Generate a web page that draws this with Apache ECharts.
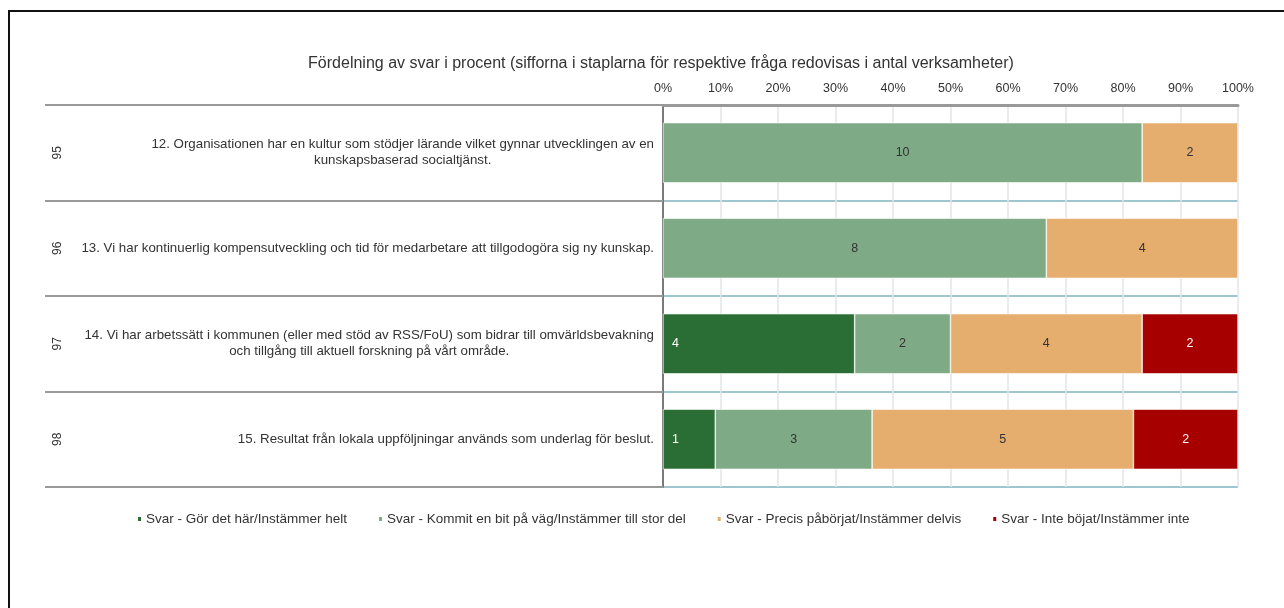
<!DOCTYPE html>
<html>
<head>
<meta charset="utf-8">
<script src="https://cdn.jsdelivr.net/npm/echarts@6/dist/echarts.min.js"></script>
<style>
html,body{margin:0;padding:0;background:#fff;}
#chart{width:1284px;height:608px;}
</style>
</head>
<body>
<div id="chart"></div>
<script>
const titleText = 'Fördelning av svar i procent (sifforna i staplarna för respektive fråga redovisas i antal verksamheter)';
const questions = [
  ['12. Organisationen har en kultur som stödjer lärande vilket gynnar utvecklingen av en', 'kunskapsbaserad socialtjänst.'],
  ['13. Vi har kontinuerlig kompensutveckling och tid för medarbetare att tillgodogöra sig ny kunskap.'],
  ['14. Vi har arbetssätt i kommunen (eller med stöd av RSS/FoU) som bidrar till omvärldsbevakning', 'och tillgång till aktuell forskning på vårt område.'],
  ['15. Resultat från lokala uppföljningar används som underlag för beslut.']
];
const codes = ['95', '96', '97', '98'];
const seriesNames = [
  'Svar - Gör det här/Instämmer helt',
  'Svar - Kommit en bit på väg/Instämmer till stor del',
  'Svar - Precis påbörjat/Instämmer delvis',
  'Svar - Inte böjat/Instämmer inte'
];
const countsHelt = [0, 0, 4, 1];
const countsStorDel = [10, 8, 2, 3];
const countsDelvis = [2, 4, 4, 5];
const countsInte = [0, 0, 2, 2];
const xTicks = ['0%', '10%', '20%', '30%', '40%', '50%', '60%', '70%', '80%', '90%', '100%'];

const colors = ['#2b6e35', '#7eaa86', '#e5ae6e', '#a60000'];
const allCounts = [countsHelt, countsStorDel, countsDelvis, countsInte];
const totals = questions.map((q, i) => allCounts.reduce((s, a) => s + a[i], 0));
const categories = questions.map(q => q.join('\n'));

const chart = echarts.init(document.getElementById('chart'));
const font = 'Liberation Sans, Arial, sans-serif';

const series = allCounts.map((arr, si) => ({
  name: seriesNames[si],
  type: 'bar',
  stack: 'total',
  barWidth: '63%',
  yAxisIndex: 0,
  itemStyle: { color: colors[si], borderColor: '#ffffff', borderWidth: 0.6 },
  label: {
    show: true,
    position: si === 0 ? 'insideLeft' : 'inside',
    distance: 9,
    color: (si === 0 || si === 3) ? '#ffffff' : '#333333',
    fontFamily: font,
    fontSize: 12.5,
    formatter: p => arr[p.dataIndex] ? String(arr[p.dataIndex]) : ''
  },
  data: arr.map((v, i) => v ? v / totals[i] * 100 : null)
}));

chart.setOption({
  animation: false,
  textStyle: { fontFamily: font },
  title: {
    text: titleText,
    left: 656,
    textAlign: 'center',
    top: 51,
    textStyle: { fontSize: 16, fontWeight: 'normal', color: '#333', fontFamily: font }
  },
  legend: {
    top: 507,
    left: 131,
    icon: 'rect',
    itemWidth: 5,
    itemHeight: 6,
    itemGap: 30,
    textStyle: { fontSize: 13.5, color: '#333', fontFamily: font, padding: [0, 0, 0, -1] },
    data: seriesNames
  },
  graphic: [{
    type: 'rect',
    shape: { x: 9, y: 11, width: 1400, height: 800 },
    style: { fill: 'none', stroke: '#111', lineWidth: 2 },
    silent: true
  }],
  grid: { left: 663, right: 46, top: 105, bottom: 121, containLabel: false },
  xAxis: {
    type: 'value',
    position: 'top',
    min: 0,
    max: 100,
    interval: 10,
    axisLine: { show: true, lineStyle: { color: '#999', width: 3 } },
    axisTick: { show: false },
    axisLabel: {
      margin: 10,
      fontSize: 12.5,
      color: '#333',
      fontFamily: font,
      formatter: v => xTicks[Math.round(v / 10)]
    },
    splitLine: { show: true, lineStyle: { color: '#e4e4e4', width: 1.5 } }
  },
  yAxis: [{
    type: 'category',
    inverse: true,
    data: categories,
    axisLine: { show: true, lineStyle: { color: '#555', width: 1.5 } },
    axisTick: { show: true, length: 618, lineStyle: { color: '#999', width: 2 } },
    splitLine: { show: true, lineStyle: { color: '#9fc6cf', width: 2 } },
    axisLabel: {
      margin: 9,
      align: 'right',
      fontSize: 13.3,
      lineHeight: 16,
      color: '#333',
      fontFamily: font,
      formatter: (v, i) => questions[i].map(l => '{c|' + l + '}').join('\n'),
      rich: { c: { align: 'center', fontSize: 13.3, lineHeight: 16, color: '#333', fontFamily: font } }
    }
  }, {
    type: 'category',
    inverse: true,
    position: 'left',
    offset: 0,
    data: codes,
    axisLine: { show: false },
    axisTick: { show: false },
    splitLine: { show: false },
    axisLabel: {
      margin: 599,
      rotate: 90,
      fontSize: 12,
      color: '#333',
      fontFamily: font
    }
  }],
  series: series
});
</script>
</body>
</html>
